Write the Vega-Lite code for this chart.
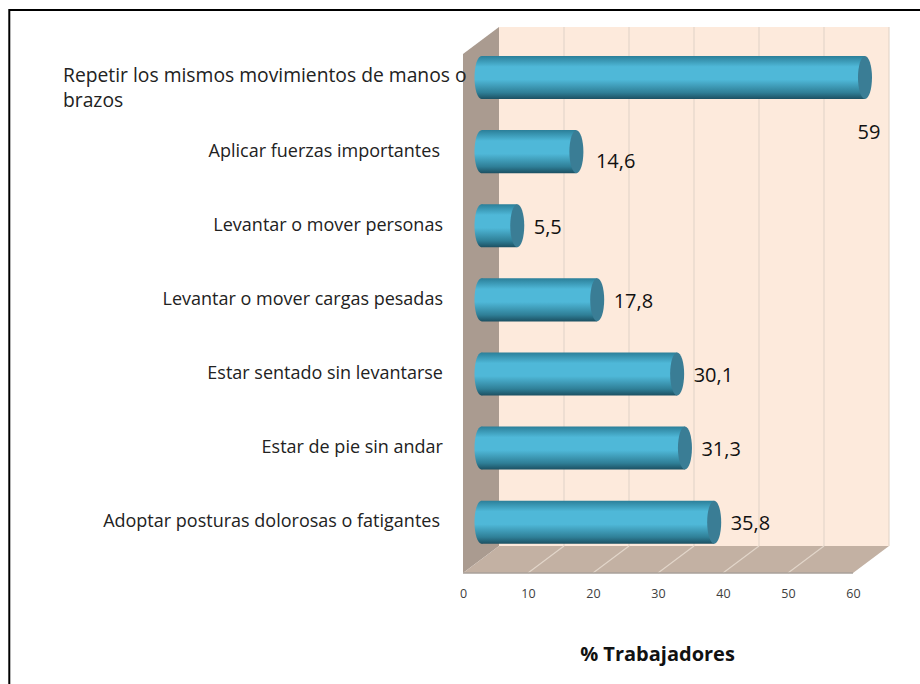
{
"$schema":"https://vega.github.io/schema/vega-lite/v6.json",
"autosize":{"type":"fit","contains":"padding"},
"padding":0,
"width":920,
"height":684,
"background":"white",
"view":{"stroke":null},
"config":{"text":{"font":"Open Sans"}},
"datasets":{
 "bars":[
  {"cat":"Repetir los mismos movimientos de manos o brazos","value":59,"label":"59"},
  {"cat":"Aplicar fuerzas importantes","value":14.6,"label":"14,6"},
  {"cat":"Levantar o mover personas","value":5.5,"label":"5,5"},
  {"cat":"Levantar o mover cargas pesadas","value":17.8,"label":"17,8"},
  {"cat":"Estar sentado sin levantarse","value":30.1,"label":"30,1"},
  {"cat":"Estar de pie sin andar","value":31.3,"label":"31,3"},
  {"cat":"Adoptar posturas dolorosas o fatigantes","value":35.8,"label":"35,8"}
 ],
 "backWall":[{"x":5.54,"y":-0.324,"y2":6.689},{"x":65.54,"y":-0.324,"y2":6.689}],
 "sideWall":[{"x":0,"y":-0.689,"y2":6.324},{"x":5.54,"y":-0.324,"y2":6.689}],
 "floor":[{"x":0,"y":-0.689,"y2":-0.689},{"x":5.54,"y":-0.689,"y2":-0.324},{"x":60,"y":-0.689,"y2":-0.324},{"x":65.54,"y":-0.324,"y2":-0.324}],
 "grid":[{"x":15.54,"y":-0.324,"y2":6.689},{"x":25.54,"y":-0.324,"y2":6.689},{"x":35.54,"y":-0.324,"y2":6.689},{"x":45.54,"y":-0.324,"y2":6.689},{"x":55.54,"y":-0.324,"y2":6.689},{"x":65.54,"y":-0.324,"y2":6.689}],
 "floorGrid":[
  {"t":10,"x":10,"y":-0.689},{"t":10,"x":15.54,"y":-0.324},
  {"t":20,"x":20,"y":-0.689},{"t":20,"x":25.54,"y":-0.324},
  {"t":30,"x":30,"y":-0.689},{"t":30,"x":35.54,"y":-0.324},
  {"t":40,"x":40,"y":-0.689},{"t":40,"x":45.54,"y":-0.324},
  {"t":50,"x":50,"y":-0.689},{"t":50,"x":55.54,"y":-0.324}
 ],
 "base":[{"x":0,"y":-0.689,"x2":60}],
 "frame":[{"o":1,"x":70.31,"y":6.92},{"o":2,"x":-69.8,"y":6.92},{"o":3,"x":-69.8,"y":-2.189}]
},
"resolve":{"scale":{"y":"independent"}},
"layer":[
 {
  "encoding":{
   "x":{"field":"x","type":"quantitative","scale":{"domain":[-71.23,70.31],"nice":false,"zero":false}},
   "y":{"field":"y","type":"quantitative","axis":null,"scale":{"domain":[-2.189,7.054],"nice":false,"zero":false}}
  },
  "layer":[
   {"data":{"name":"frame"},"mark":{"type":"line","stroke":"#000000","strokeWidth":2,"clip":true},"encoding":{"order":{"field":"o","type":"quantitative"}}},
   {"data":{"name":"backWall"},"mark":{"type":"area","fill":"#fdeadc"},"encoding":{"y2":{"field":"y2"}}},
   {"data":{"name":"sideWall"},"mark":{"type":"area","fill":"#aa9b90"},"encoding":{"y2":{"field":"y2"}}},
   {"data":{"name":"floor"},"mark":{"type":"area","fill":"#c3b1a3"},"encoding":{"y2":{"field":"y2"}}},
   {"data":{"name":"grid"},"mark":{"type":"rule","stroke":"#e4d6cb","strokeWidth":1.2},"encoding":{"y2":{"field":"y2"}}},
   {"data":{"name":"floorGrid"},"mark":{"type":"line","stroke":"#e2d6ca","strokeWidth":1.2},"encoding":{"detail":{"field":"t"}}},
   {"data":{"name":"base"},"mark":{"type":"rule","stroke":"#a9a19a","strokeWidth":1.5},"encoding":{"x2":{"field":"x2"}}},
   {
    "data":{"name":"bars"},
    "transform":[{"filter":"datum.value<0"}],
    "mark":{"type":"point","opacity":0},
    "encoding":{
     "x":{"field":"value","type":"quantitative","axis":{
       "title":"% Trabajadores","values":[0,10,20,30,40,50,60],"grid":false,"ticks":false,"domain":false,
       "offset":-97,"labelPadding":0,"labelFont":"Open Sans","labelFontSize":12.5,"labelColor":"#404040","labelBaseline":"top","format":"d",
       "titleFont":"Open Sans","titleFontSize":20,"titleFontWeight":"bold","titleColor":"#111111","titleX":657,"titleY":67,"titleBaseline":"middle","titleAlign":"center"}}
    }
   }
  ]
 },
 {
  "data":{"name":"bars"},
  "encoding":{
   "y":{"field":"cat","type":"nominal","axis":null,"sort":null,"scale":{"domain":["Repetir los mismos movimientos de manos o brazos","Aplicar fuerzas importantes","Levantar o mover personas","Levantar o mover cargas pesadas","Estar sentado sin levantarse","Estar de pie sin andar","Adoptar posturas dolorosas o fatigantes"],"paddingInner":0.419,"paddingOuter":0,"range":[56,543.7]}},
   "x":{"field":"value","type":"quantitative"}
  },
  "layer":[
   {"mark":{"type":"point","filled":true,"opacity":1,"xOffset":18.5,"size":1849,"strokeWidth":0,"shape":"M0,-1 C0.18,-1 0.326,-0.552 0.326,0 C0.326,0.552 0.18,1 0,1 C-0.18,1 -0.326,0.552 -0.326,0 C-0.326,-0.552 -0.18,-1 0,-1 Z",
     "fill":{"x1":0,"y1":0,"x2":0,"y2":1,"gradient":"linear","stops":[{"offset":0,"color":"#2b7f99"},{"offset":0.25,"color":"#4fb8d8"},{"offset":0.55,"color":"#4fb8d8"},{"offset":0.85,"color":"#2f7f97"},{"offset":1,"color":"#1c5062"}]}},
    "encoding":{"x":{"datum":0,"type":"quantitative"}}},
   {"mark":{"type":"bar","xOffset":18.5,"x2Offset":18.5,
     "fill":{"x1":0,"y1":0,"x2":0,"y2":1,"gradient":"linear","stops":[{"offset":0,"color":"#2b7f99"},{"offset":0.25,"color":"#4fb8d8"},{"offset":0.55,"color":"#4fb8d8"},{"offset":0.85,"color":"#2f7f97"},{"offset":1,"color":"#1c5062"}]}},
    "encoding":{"x2":{"datum":0}}},
   {"mark":{"type":"point","filled":true,"opacity":1,"xOffset":18.5,"size":1849,"strokeWidth":0,"fill":"#3a7d95","shape":"M0,-1 C0.18,-1 0.326,-0.552 0.326,0 C0.326,0.552 0.18,1 0,1 C-0.18,1 -0.326,0.552 -0.326,0 C-0.326,-0.552 -0.18,-1 0,-1 Z"}},
   {"transform":[{"filter":"datum.value!=59 && datum.value!=14.6"}],
    "mark":{"type":"text","align":"left","baseline":"middle","dx":35,"dy":2,"fontSize":20,"fill":"#111111"},
    "encoding":{"text":{"field":"label"}}},
   {"transform":[{"filter":"datum.value==14.6"}],
    "mark":{"type":"text","align":"left","baseline":"middle","dx":38,"dy":10,"fontSize":20,"fill":"#111111"},
    "encoding":{"text":{"field":"label"}}},
   {"transform":[{"filter":"datum.value==59"}],
    "mark":{"type":"text","align":"left","baseline":"middle","dx":11,"dy":55,"fontSize":20,"fill":"#111111"},
    "encoding":{"text":{"field":"label"}}},
   {"transform":[{"filter":"datum.value!=59 && datum.value!=14.6 && datum.value!=35.8"}],
    "mark":{"type":"text","align":"right","baseline":"middle","fontSize":18,"fill":"#222222"},
    "encoding":{"text":{"field":"cat"},"x":{"datum":-3.08,"type":"quantitative"}}},
   {"transform":[{"filter":"datum.value==14.6 || datum.value==35.8"}],
    "mark":{"type":"text","align":"right","baseline":"middle","fontSize":18,"fill":"#222222"},
    "encoding":{"text":{"field":"cat"},"x":{"datum":-3.54,"type":"quantitative"}}},
   {"transform":[{"filter":"datum.value==59"}],
    "mark":{"type":"text","align":"left","baseline":"middle","dy":-2,"lineHeight":25,"fontSize":19.3,"fill":"#222222","text":["Repetir los mismos movimientos de manos o","brazos"]},
    "encoding":{"x":{"datum":-61.54,"type":"quantitative"}}}
  ]
 }
]
}
